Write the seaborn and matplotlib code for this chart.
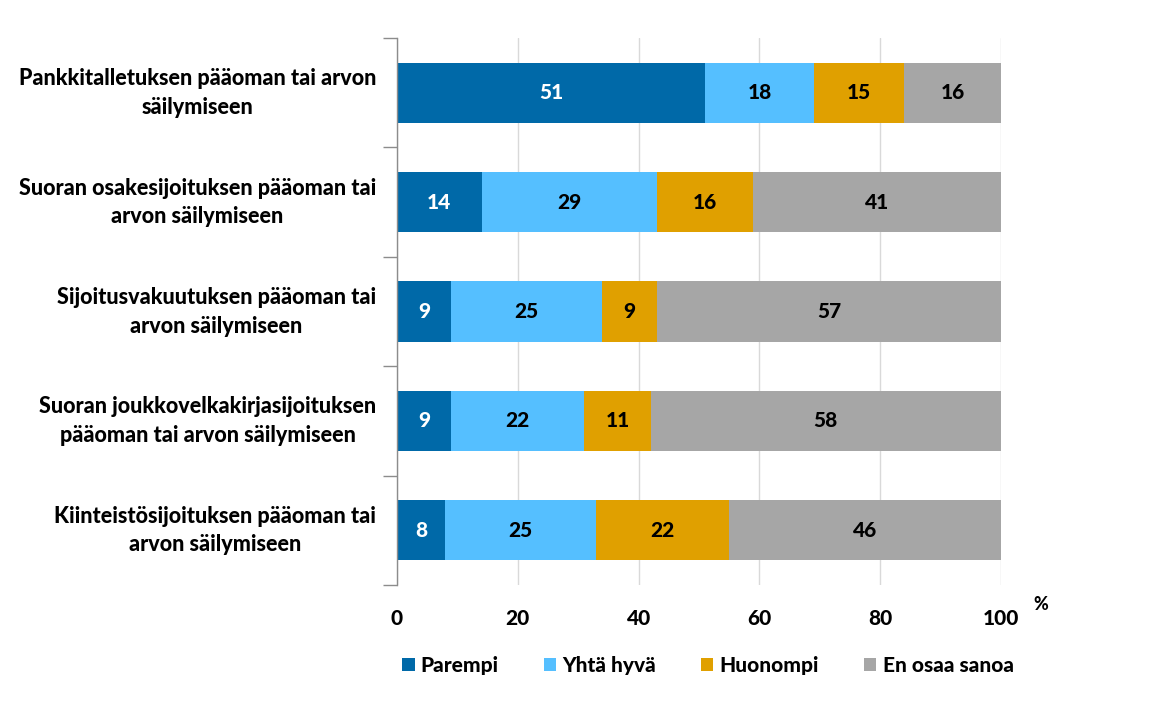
import matplotlib
matplotlib.use("Agg")
import matplotlib.pyplot as plt
import matplotlib.transforms as mtransforms
import seaborn as sns
import pandas as pd
import numpy as np
from matplotlib.patches import Patch

categories = [
    "Pankkitalletuksen pääoman tai arvon\nsäilymiseen",
    "Suoran osakesijoituksen pääoman tai\narvon säilymiseen",
    "Sijoitusvakuutuksen pääoman tai\narvon säilymiseen",
    "Suoran joukkovelkakirjasijoituksen\npääoman tai arvon säilymiseen",
    "Kiinteistösijoituksen pääoman tai\narvon säilymiseen",
]
series_names = ["Parempi", "Yhtä hyvä", "Huonompi", "En osaa sanoa"]
parempi = [51, 14, 9, 9, 8]
yhta_hyva = [18, 29, 25, 22, 25]
huonompi = [15, 16, 9, 11, 22]
en_osaa = [16, 41, 57, 58, 46]
xticks = [0, 20, 40, 60, 80, 100]

colors = ["#0069A8", "#55BFFF", "#E0A000", "#A6A6A6"]
text_colors = ["white", "black", "black", "black"]

sns.set_theme(style="white")
plt.rcParams["font.family"] = ["Lato", "DejaVu Sans"]
plt.rcParams["text.color"] = "black"
plt.rcParams["xtick.color"] = "black"
plt.rcParams["ytick.color"] = "black"
plt.rcParams["xtick.labelcolor"] = "black"
plt.rcParams["ytick.labelcolor"] = "black"
W = 900

series = [parempi, yhta_hyva, huonompi, en_osaa]
df = pd.DataFrame({"category": categories})
cum = np.zeros(len(categories))
cums = []
for name, vals in zip(series_names, series):
    cum = cum + np.array(vals)
    cums.append(cum.copy())
    df[name] = cum.copy()

fig = plt.figure(figsize=(11.7, 7.09), dpi=100)
ax = fig.add_axes([0.3393, 0.175, 0.5163, 0.7714])

for i in range(len(series_names) - 1, -1, -1):
    sns.barplot(data=df, y="category", x=series_names[i], color=colors[i],
                orient="h", width=0.55, saturation=1, ax=ax, zorder=2,
                edgecolor="none", linewidth=0)

for i, vals in enumerate(series):
    starts = cums[i] - np.array(vals)
    for j, v in enumerate(vals):
        end = min(cums[i][j], 100)
        ax.text((starts[j] + end) / 2, j, str(v), ha="center", va="center",
                color=text_colors[i], fontsize=15, fontweight=W, zorder=3)

ax.set_xlim(0, 100)
ax.set_ylim(4.5, -0.5)
ax.set_xticks(xticks)
ax.set_xticklabels([str(t) for t in xticks], fontsize=15, fontweight=W, color="black")
ax.tick_params(axis="x", length=0, pad=17)
ax.tick_params(axis="y", which="major", length=0, pad=15, labelsize=15.5, labelcolor="black")
offset = mtransforms.ScaledTranslation(0, 4 / 72, fig.dpi_scale_trans)
for lbl in ax.get_yticklabels():
    lbl.set_fontweight(W)
    lbl.set_multialignment("center")
    lbl.set_linespacing(1.45)
    lbl.set_color("black")
    lbl.set_transform(lbl.get_transform() + offset)
ax.set_yticks(np.arange(-0.5, 5.0, 1.0), minor=True)
ax.tick_params(axis="y", which="minor", left=True, length=10, width=1,
               color="#8C8C8C", direction="out")
ax.set_xlabel("")
ax.set_ylabel("")
ax.grid(axis="x", color="#D9D9D9", linewidth=1, zorder=0)
ax.set_axisbelow(True)
for s in ["top", "right", "bottom"]:
    ax.spines[s].set_visible(False)
ax.spines["left"].set_color("#8C8C8C")
ax.spines["left"].set_linewidth(1)

ax.text(1.066, -0.02, "%", transform=ax.transAxes, fontsize=13,
        fontweight=W, ha="center", va="top", color="black")

handles = [Patch(facecolor=c, edgecolor="none", label=n) for c, n in zip(colors, series_names)]
leg = fig.legend(handles=handles, loc="center", bbox_to_anchor=(0.605, 0.062), ncol=4,
                 frameon=False, handlelength=0.6, handleheight=0.6,
                 handletextpad=0.3, columnspacing=2.15, prop={"weight": W, "size": 15})
for t in leg.get_texts():
    t.set_color("black")

fig.savefig("out.png", dpi=100)
